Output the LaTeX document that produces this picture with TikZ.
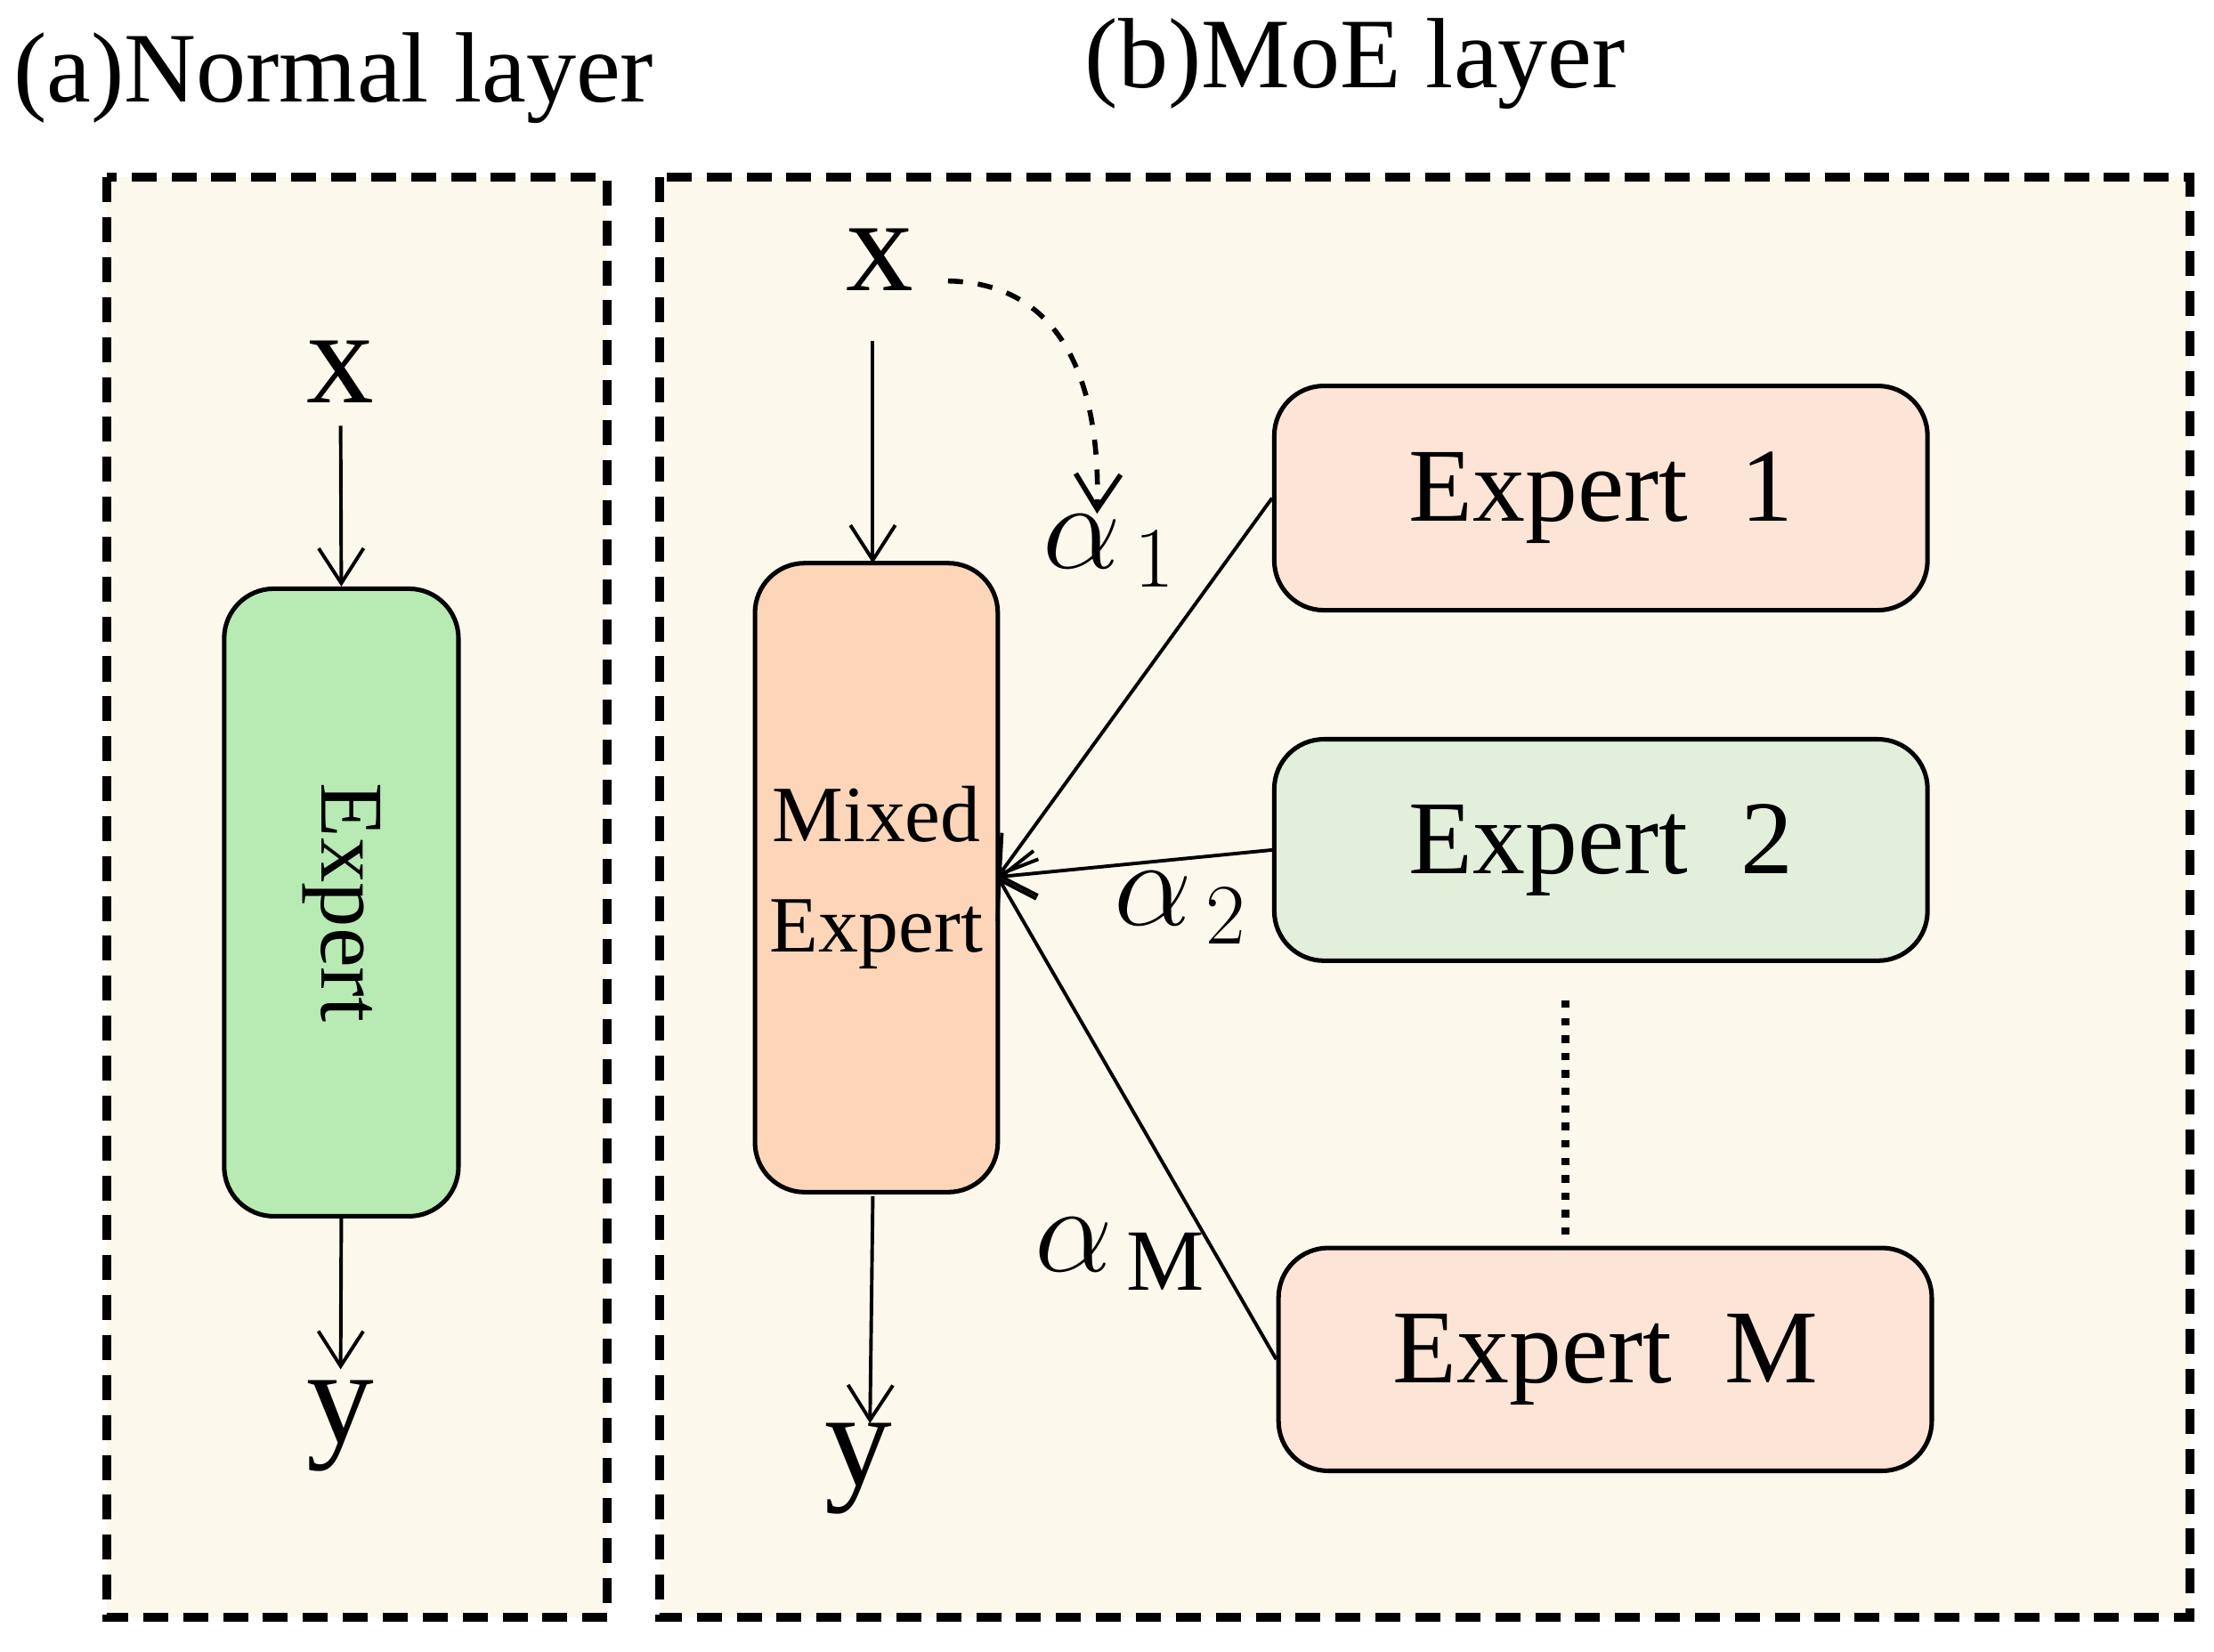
\documentclass[tikz,border=0pt]{standalone}
\usepackage{fontspec}
\setmainfont{Liberation Serif}
\usetikzlibrary{arrows.meta}
\begin{document}
\begin{tikzpicture}[x=0.01cm,y=-0.01cm,
 panel/.style={draw,dashed,line width=1.8pt,fill=cream,dash pattern=on 5pt off 3pt},
 box/.style={draw,line width=0.9pt,rounded corners=0.35cm},
 arr/.style={-{Straight Barb[length=7pt,width=9pt]},line width=0.7pt},
 lbl/.style={font=\fontsize{27}{27}\selectfont},
 al/.style={font=\fontsize{25}{25}\selectfont}]
\definecolor{cream}{HTML}{FDF8EC}
\definecolor{gr}{HTML}{B8EAB4}
\definecolor{or}{HTML}{FDD5B8}
\definecolor{pk}{HTML}{FCE4D6}
\definecolor{lg}{HTML}{E2EFDA}
\useasboundingbox (0,0) rectangle (1560,1164);
\node[font=\fontsize{20}{20}\selectfont] (ta) at (235,55) {(a)Normal layer};
\node[font=\fontsize{20}{20}\selectfont] (tb) at (955,45) {(b)MoE layer};
\path[panel] (75,125) rectangle (428,1140);
\path[panel] (465,125) rectangle (1543,1140);
% (a)
\node[lbl] (xa) at (240,262) {x};
\node[box,fill=gr,minimum width=1.65cm,minimum height=4.42cm] (ea) at (240.5,636) {};
\node[rotate=-90,font=\fontsize{18}{18}\selectfont] at (ea) {Expert};
\node[lbl] (ya) at (240,1005) {y};
\draw[arr] (240,300) -- (ea.north);
\draw[arr] (ea.south) -- (240,965);
% (b)
\node[lbl] (xb) at (620,183) {x};
\node[box,fill=or,minimum width=1.71cm,minimum height=4.43cm,inner xsep=1pt,align=center,font=\fontsize{16}{22}\selectfont] (me) at (617.5,618.5) {Mixed\\Expert};
\node[lbl] (yb) at (605,1035) {y};
\draw[arr] (615,240) -- (615,397);
\draw[arr] (615,843) -- (613,1003);
\coordinate (a1t) at (773,362);
\draw[arr,dashed,line width=1pt] (668,198) .. controls (760,200) and (775,290) .. (a1t);
\node[box,fill=pk,minimum width=4.6cm,minimum height=1.58cm,font=\fontsize{21}{21}\selectfont] (e1) at (1128,351) {Expert\ \ 1};
\node[box,fill=lg,minimum width=4.6cm,minimum height=1.56cm,font=\fontsize{21}{21}\selectfont] (e2) at (1128,599) {Expert\ \ 2};
\node[box,fill=pk,minimum width=4.6cm,minimum height=1.57cm,font=\fontsize{21}{21}\selectfont] (em) at (1131,958) {Expert\ \ M};
\coordinate (hit) at (703,618);
\draw[arr] (e1.west) -- (hit);
\draw[arr] (e2.west) -- (hit);
\draw[arr] (em.west) -- (hit);
\draw[line width=1.5pt,dotted] (1103,705) -- (1103,870);
\node[al] (a1) at (782,388) {$\alpha_{\,\fontsize{14}{14}\selectfont 1}$};
\node[al] (a2) at (832,640) {$\alpha_{\,\fontsize{14}{14}\selectfont 2}$};
\node[al] (am) at (790,884) {$\alpha_{\,\fontsize{14}{14}\selectfont\mathrm{M}}$};
\end{tikzpicture}
\end{document}
